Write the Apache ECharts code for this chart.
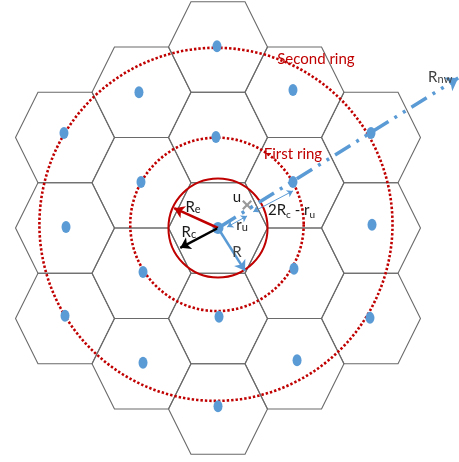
<!DOCTYPE html>
<html><head><meta charset="utf-8">
<script src="https://cdn.jsdelivr.net/npm/echarts@6/dist/echarts.min.js"></script>
<style>html,body{margin:0;padding:0;background:#fff}#c{width:459px;height:462px}</style>
</head><body><div id="c"></div>
<script>
// ---- data (grid units: 1 = hexagon circumradius) ----
// hexagon cells as [column, half-row]
const hexCells = [
  [0,-4],[0,-2],[0,0],[0,2],[0,4],
  [-1,-3],[-1,-1],[-1,1],[-1,3],
  [1,-3],[1,-1],[1,1],[1,3],
  [-2,-2],[-2,0],[-2,2],
  [2,-2],[2,0],[2,2]
];
// base-station dots
const dotPoints = [
  [-0.02,3.48],[-0.04,1.74],[0,0],[0.02,-1.70],[0,-3.41],
  [-1.55,2.60],[-1.51,0.88],[-1.47,-0.84],[-1.47,-2.58],
  [-3.02,1.82],[-2.98,0.02],[-3.00,-1.68],
  [1.47,2.64],[1.47,0.88],[1.49,-0.78],[1.55,-2.53],
  [3.00,1.82],[3.02,0.06],[2.98,-1.72]
];
const ringNames = ['cell', 'First ring', 'Second ring'];
const ringRadii = [0.96, 1.68, 3.42];
const ringCenters = [[0,0],[-0.02,0.07],[-0.04,0.07]];
const arrowNames = ['Re', 'Rc', 'R', 'Rnw', 'ru', '2Rc-ru'];
const arrowFrom = [[0,0],[0,0],[0,0],[0.05,0.03],[0.18,0.02],[0.69,0.31]];
const arrowTo = [[-0.86,0.38],[-0.74,-0.38],[0.53,-0.82],[4.71,2.87],[0.57,0.23],[1.47,0.71]];
const userPoint = [[0.57,0.44]];
const labelTexts = ['Second ring', 'First ring', 'R{s|nw}', 'u', 'r{s|u}', '2R{d|c} - r{d|u}', 'R{s|e}', 'R{s|c}', 'R'];
const labelPos = [[1.92,3.23],[1.47,1.42],[4.12,2.88],[0.37,0.59],[0.47,0.05],[0.98,0.34],[-0.49,0.40],[-0.57,-0.08],[0.37,-0.46]];

// ---- layout / style ----
const W = 459, H = 462, CX = 218, CY = 228, PX = 51, PY = 52.25;
const SQ3 = Math.sqrt(3);
const HEX_HALF_W = 0.97, HEX_TOP_HALF = 0.53, HEX_HALF_H = SQ3 / 2;
const RED = '#c00000', BLUE = '#5b9bd5';
const FONT = 'Lato, "Liberation Sans", sans-serif';

const arrowStyles = [
  {color: RED, width: 2.5, type: 'solid', sym: ['none','arrow'], size: 10},
  {color: '#000', width: 2.5, type: 'solid', sym: ['none','arrow'], size: 10},
  {color: BLUE, width: 2.5, type: 'solid', sym: ['none','arrow'], size: 10},
  {color: BLUE, width: 3.5, type: [18,7,3,7,3,7], sym: ['none','arrow'], size: 12},
  {color: BLUE, width: 1, type: 'solid', sym: ['arrow','arrow'], size: 6},
  {color: BLUE, width: 1, type: 'solid', sym: ['arrow','arrow'], size: 6}
];
const labelColors = [RED, RED, '#404040', '#1a1a1a', '#1a1a1a', '#1a1a1a', '#1a1a1a', '#1a1a1a', '#404040'];
const labelAlign = ['center','center','left','center','center','left','center','center','center'];

const chart = echarts.init(document.getElementById('c'), null, {renderer: 'canvas'});
const subRich = {
  s: {fontSize: 11, fontFamily: FONT, padding: [4,0,0,0]},
  d: {fontSize: 10, fontFamily: FONT, padding: [9,0,0,0]}
};

chart.setOption({
  animation: false,
  backgroundColor: '#fff',
  grid: {left: 0, top: 0, width: W, height: H},
  xAxis: {type: 'value', min: -CX / PX, max: (W - CX) / PX, show: false},
  yAxis: {type: 'value', min: -(H - CY) / PY, max: CY / PY, show: false},
  series: [
    {
      name: 'hexagons', type: 'custom', z: 1,
      data: hexCells.map(c => [1.5 * c[0], c[1] * SQ3 / 2]),
      renderItem: function (params, api) {
        const x = api.value(0), y = api.value(1);
        const pts = [
          [x + HEX_HALF_W, y], [x + HEX_TOP_HALF, y + HEX_HALF_H], [x - HEX_TOP_HALF, y + HEX_HALF_H],
          [x - HEX_HALF_W, y], [x - HEX_TOP_HALF, y - HEX_HALF_H], [x + HEX_TOP_HALF, y - HEX_HALF_H]
        ].map(p => api.coord(p));
        return {type: 'polygon', shape: {points: pts}, style: {fill: 'none', stroke: '#6a6a6a', lineWidth: 1.1}};
      }
    },
    {
      name: 'rings', type: 'custom', z: 2,
      data: ringRadii.map((r, i) => [ringCenters[i][0], ringCenters[i][1], r]),
      renderItem: function (params, api) {
        const c = api.coord([api.value(0), api.value(1)]);
        const s = api.size([api.value(2), api.value(2)]);
        const solid = params.dataIndex === 0;
        return {type: 'circle', shape: {cx: c[0], cy: c[1], r: (s[0] + s[1]) / 2},
          style: {fill: 'none', stroke: RED, lineWidth: solid ? 2 : 2.6, lineDash: solid ? null : [2.4, 2]}};
      }
    },
    {
      name: 'base stations', type: 'scatter', z: 4,
      data: dotPoints,
      symbol: 'circle',
      symbolSize: function (v, p) { return p.dataIndex === 2 ? [11, 12] : [9, 12]; },
      itemStyle: {color: BLUE, opacity: 1}
    },
    {
      name: 'user', type: 'scatter', z: 5,
      data: userPoint,
      symbol: 'path://M0,1.6 L1.6,0 L5,3.4 L8.4,0 L10,1.6 L6.6,5 L10,8.4 L8.4,10 L5,6.6 L1.6,10 L0,8.4 L3.4,5 Z',
      symbolSize: 10,
      itemStyle: {color: '#7f7f7f'}
    }
  ].concat(arrowNames.map((n, i) => ({
    name: n, type: 'lines', coordinateSystem: 'cartesian2d', z: 6,
    symbol: arrowStyles[i].sym, symbolSize: arrowStyles[i].size,
    lineStyle: {color: arrowStyles[i].color, width: arrowStyles[i].width, type: arrowStyles[i].type, opacity: 1, cap: 'butt'},
    data: [{coords: [arrowFrom[i], arrowTo[i]]}]
  }))).concat([
    {
      name: 'labels', type: 'custom', z: 10,
      data: labelPos.map((p, i) => [p[0], p[1], i]),
      renderItem: function (params, api) {
        const i = api.value(2);
        const c = api.coord([api.value(0), api.value(1)]);
        return {type: 'text', x: c[0], y: c[1],
          style: {text: labelTexts[i], fill: labelColors[i], font: '15px ' + FONT,
            align: labelAlign[i], verticalAlign: 'middle', rich: subRich}};
      }
    }
  ])
});
</script></body></html>
